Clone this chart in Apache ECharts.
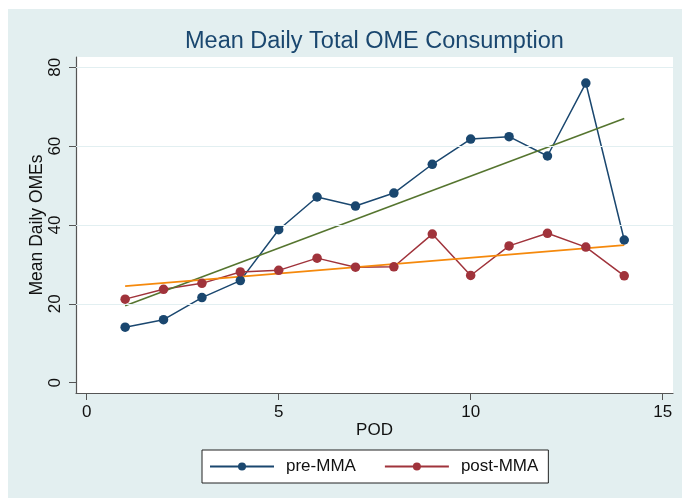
<!DOCTYPE html>
<html>
<head>
<meta charset="utf-8">
<script src="https://cdn.jsdelivr.net/npm/echarts@6/dist/echarts.min.js"></script>
<style>
html,body{margin:0;padding:0;background:#fff;}
#chart{width:682px;height:502px;}
</style>
</head>
<body>
<div id="chart"></div>
<script>
// ---- data ----
const pod      = [1,2,3,4,5,6,7,8,9,10,11,12,13,14];
const preMMA   = [14.1,16.0,21.6,25.9,38.8,47.1,44.8,48.1,55.4,61.8,62.4,57.5,76.0,36.2];
const postMMA  = [21.2,23.7,25.2,28.1,28.5,31.6,29.3,29.4,37.7,27.2,34.7,37.9,34.4,27.1];
const fitPod   = [1,14];
const preFit   = [19.5,67.0];
const postFit  = [24.5,34.9];
const xTicks   = [0,5,10,15];
const yTicks   = [0,20,40,60,80];
const yGrid    = [20,40,60,80];
const seriesNames = ['pre-MMA','post-MMA'];

const navy = '#1a476f', maroon = '#a0333b', green = '#55752f', orange = '#f5890c';
const pairs = (xs, ys) => xs.map((x,i)=>[x, ys[i]]);

const chart = echarts.init(document.getElementById('chart'), null, {renderer:'canvas'});
const font = '"Liberation Sans", Arial, Helvetica, sans-serif';

chart.setOption({
  backgroundColor: '#ffffff',
  animation: false,
  graphic: [{
    type: 'rect', z: -10, silent: true,
    shape: {x: 8, y: 9, width: 674, height: 489},
    style: {fill: '#e3eff0'}
  }],
  title: {
    text: 'Mean Daily Total OME Consumption',
    left: 185, top: 30,
    padding: 0,
    textStyle: {fontFamily: font, fontSize: 23.5, fontWeight: 'normal', color: navy}
  },
  grid: {
    left: 76, top: 57, right: 9, bottom: 109,
    show: true, backgroundColor: '#ffffff', borderWidth: 0
  },
  legend: {
    data: seriesNames,
    left: 202, top: 450,
    orient: 'horizontal',
    padding: [7, 10, 7, 7],
    itemGap: 28,
    itemWidth: 64, itemHeight: 10,
    backgroundColor: '#ffffff',
    borderColor: '#222', borderWidth: 1, borderRadius: 0,
    textStyle: {fontFamily: font, fontSize: 17, color: '#111', lineHeight: 18, padding: [1,0,0,7]}
  },
  xAxis: {
    type: 'value', min: -0.28, max: 15.27,
    name: 'POD', nameLocation: 'middle', nameGap: 29, nameMoveOverlap: false,
    nameTextStyle: {fontFamily: font, fontSize: 17, color: '#111'},
    axisLine: {show: true, onZero: false, lineStyle: {color: '#555', width: 1.2}},
    axisTick: {show: true, length: 7, customValues: xTicks, lineStyle: {color: '#555'}},
    axisLabel: {customValues: xTicks, margin: 11, fontFamily: font, fontSize: 17, color: '#111'},
    splitLine: {show: false}
  },
  yAxis: {
    type: 'value', min: -2.6, max: 82.6,
    name: 'Mean Daily OMEs', nameLocation: 'middle', nameRotate: 90, nameGap: 30, nameMoveOverlap: false,
    nameTextStyle: {fontFamily: font, fontSize: 17.5, color: '#111'},
    axisLine: {show: true, onZero: false, lineStyle: {color: '#555', width: 1.2}},
    axisTick: {show: true, length: 7, customValues: yTicks, lineStyle: {color: '#555'}},
    axisLabel: {customValues: yTicks, rotate: 90, margin: 12, fontFamily: font, fontSize: 17, color: '#111'},
    splitLine: {show: false}
  },
  series: [
    {
      name: 'grid', type: 'line', data: [], silent: true,
      markLine: {
        silent: true, symbol: 'none', label: {show: false},
        lineStyle: {color: '#e2eff1', width: 1.2, type: 'solid'},
        data: yGrid.map(v => ({yAxis: v}))
      }
    },
    {
      name: seriesNames[0], type: 'line', data: pairs(pod, preMMA),
      symbol: 'circle', symbolSize: 9.5, showSymbol: true,
      itemStyle: {color: navy}, lineStyle: {color: navy, width: 1.5}
    },
    {
      name: seriesNames[1], type: 'line', data: pairs(pod, postMMA),
      symbol: 'circle', symbolSize: 9.5, showSymbol: true,
      itemStyle: {color: maroon}, lineStyle: {color: maroon, width: 1.5}
    },
    {
      name: 'pre fit', type: 'line', data: pairs(fitPod, preFit),
      symbol: 'none', lineStyle: {color: green, width: 1.6}, itemStyle: {color: green}
    },
    {
      name: 'post fit', type: 'line', data: pairs(fitPod, postFit),
      symbol: 'none', lineStyle: {color: orange, width: 1.6}, itemStyle: {color: orange}
    }
  ]
});
</script>
</body>
</html>
